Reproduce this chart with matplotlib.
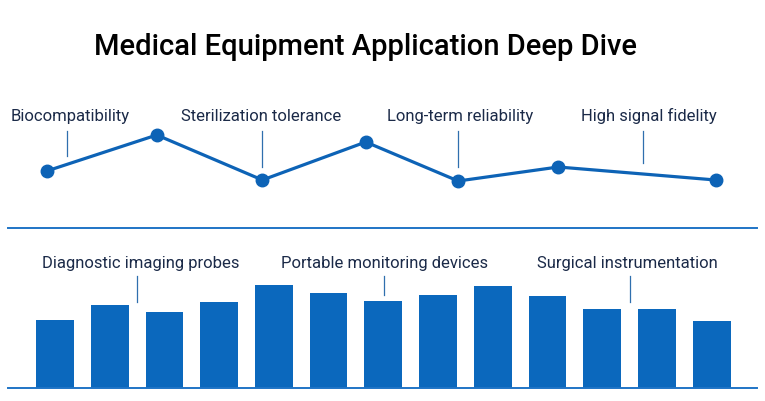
import matplotlib
matplotlib.use('Agg')
import matplotlib.pyplot as plt

plt.rcParams['font.family'] = ['Roboto', 'DejaVu Sans']

# top panel: property scores along the device chain
line_x = [0, 1.0, 1.96, 2.9, 3.74, 4.65, 6.08]
line_y = [28, 64, 19, 57, 18, 32, 19]
line_notes = ['Biocompatibility', 'Sterilization tolerance',
              'Long-term reliability', 'High signal fidelity']
line_note_x = [0.18, 1.96, 3.74, 5.42]
line_text_x = [0.21, 1.95, 3.76, 5.47]
line_note_low = [43, 32, 32, 36]

# bottom panel: application volumes
bar_vals = [68, 83, 76, 86, 103, 95, 87, 93, 102, 92, 79, 79, 67]
bar_notes = ['Diagnostic imaging probes', 'Portable monitoring devices',
             'Surgical instrumentation']
bar_note_x = [1.49, 6.01, 10.5]
bar_text_x = [1.57, 6.03, 10.46]
bar_note_low = [86, 93, 86]

blue = '#0b68bd'
text_col = '#1b2a48'

fig = plt.figure(figsize=(7.65, 4.02), dpi=100)
fig.text(0.478, 0.883, 'Medical Equipment Application Deep Dive',
         ha='center', va='center', fontsize=21, weight='medium', color='black')

# line panel
ax1 = fig.add_axes([0.0105, 0.5025, 0.9791, 0.2736])
ax1.plot(line_x, line_y, color='#0d63b6', lw=2.3, marker='o', ms=9, zorder=3)
ax1.set_xlim(-0.352, 6.457)
ax1.set_ylim(0, 110)
for lbl, x, tx, lo in zip(line_notes, line_note_x, line_text_x, line_note_low):
    ax1.plot([x, x], [lo, 68], color='#2f6fae', lw=0.9)
    ax1.text(tx, 84, lbl, ha='center', va='center', fontsize=12, color=text_col)
ax1.axis('off')

# bar panel
ax2 = fig.add_axes([0.0105, 0.0323, 0.9791, 0.398])
ax2.bar(range(len(bar_vals)), bar_vals, width=0.69, color=blue, zorder=2)
ax2.set_xlim(-0.859, 12.83)
ax2.set_ylim(0, 160)
for lbl, x, tx, lo in zip(bar_notes, bar_note_x, bar_text_x, bar_note_low):
    ax2.plot([x, x], [lo, 112], color='#2f6fae', lw=0.9)
    ax2.text(tx, 126, lbl, ha='center', va='center', fontsize=12, color=text_col)
for s in ['left', 'right']:
    ax2.spines[s].set_visible(False)
for s in ['top', 'bottom']:
    ax2.spines[s].set_color('#1f74c6')
    ax2.spines[s].set_linewidth(1.4)
ax2.set_xticks([])
ax2.set_yticks([])

fig.savefig('out.png', dpi=100)
